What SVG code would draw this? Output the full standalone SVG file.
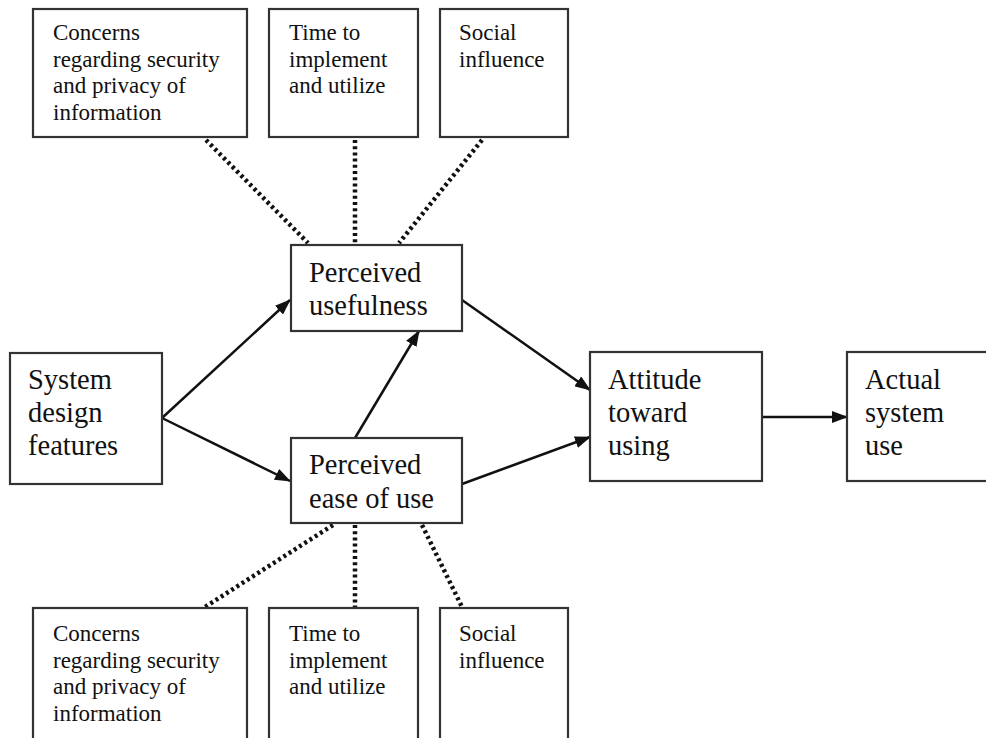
<svg xmlns="http://www.w3.org/2000/svg" width="986" height="738" viewBox="0 0 986 738">
<defs>
<marker id="ah" markerWidth="16" markerHeight="12" refX="15" refY="6" orient="auto" markerUnits="userSpaceOnUse">
<path d="M0,0 L16,6 L0,12 z" fill="#111"/>
</marker>
<style>
.box{fill:#fff;stroke:#333;stroke-width:2.2}
.s{font-family:"Liberation Serif","Times New Roman",serif;font-size:23px;fill:#111}
.l{font-family:"Liberation Serif","Times New Roman",serif;font-size:28.5px;fill:#111}
.arr{stroke:#111;stroke-width:2.5;fill:none;marker-end:url(#ah)}
.dot{stroke:#111;stroke-width:4.5;fill:none;stroke-dasharray:3 3.2}
</style>
</defs>
<rect width="986" height="738" fill="#fff"/>
<g id="connectors">
<line class="dot" x1="206" y1="140" x2="308" y2="243"/>
<line class="dot" x1="355" y1="140" x2="355" y2="244"/>
<line class="dot" x1="482" y1="140" x2="399" y2="243"/>
<line class="dot" x1="333" y1="525" x2="205" y2="607"/>
<line class="dot" x1="355" y1="525" x2="355" y2="607"/>
<line class="dot" x1="422" y1="525" x2="462" y2="607"/>
<line class="arr" x1="162" y1="418" x2="290" y2="300"/>
<line class="arr" x1="162" y1="418" x2="290" y2="481"/>
<line class="arr" x1="355" y1="438" x2="419" y2="331"/>
<line class="arr" x1="462" y1="300" x2="590" y2="390"/>
<line class="arr" x1="462" y1="484" x2="590" y2="437"/>
<line class="arr" x1="762" y1="417" x2="847" y2="417"/>
</g>
<g id="top-concerns">
<rect class="box" x="33" y="9" width="214" height="128"/>
<text class="s" x="53" y="40">Concerns</text>
<text class="s" x="53" y="67">regarding security</text>
<text class="s" x="53" y="93">and privacy of</text>
<text class="s" x="53" y="120">information</text>
</g>
<g id="top-time">
<rect class="box" x="269" y="9" width="149" height="128"/>
<text class="s" x="289" y="40">Time to</text>
<text class="s" x="289" y="67">implement</text>
<text class="s" x="289" y="93">and utilize</text>
</g>
<g id="top-social">
<rect class="box" x="440" y="9" width="128" height="128"/>
<text class="s" x="459" y="40">Social</text>
<text class="s" x="459" y="67">influence</text>
</g>
<g id="usefulness">
<rect class="box" x="291" y="245" width="171" height="86"/>
<text class="l" x="309" y="282">Perceived</text>
<text class="l" x="309" y="315">usefulness</text>
</g>
<g id="ease">
<rect class="box" x="291" y="438" width="171" height="85"/>
<text class="l" x="309" y="474">Perceived</text>
<text class="l" x="309" y="508">ease of use</text>
</g>
<g id="system">
<rect class="box" x="10" y="353" width="152" height="131"/>
<text class="l" x="28" y="389">System</text>
<text class="l" x="28" y="422">design</text>
<text class="l" x="28" y="455">features</text>
</g>
<g id="attitude">
<rect class="box" x="590" y="352" width="172" height="129"/>
<text class="l" x="608" y="389">Attitude</text>
<text class="l" x="608" y="422">toward</text>
<text class="l" x="608" y="455">using</text>
</g>
<g id="actual">
<rect class="box" x="847" y="352" width="150" height="129"/>
<text class="l" x="865" y="389">Actual</text>
<text class="l" x="865" y="422">system</text>
<text class="l" x="865" y="455">use</text>
</g>
<g id="bottom-concerns">
<rect class="box" x="33" y="608" width="214" height="140"/>
<text class="s" x="53" y="641">Concerns</text>
<text class="s" x="53" y="668">regarding security</text>
<text class="s" x="53" y="694">and privacy of</text>
<text class="s" x="53" y="721">information</text>
</g>
<g id="bottom-time">
<rect class="box" x="269" y="608" width="149" height="140"/>
<text class="s" x="289" y="641">Time to</text>
<text class="s" x="289" y="668">implement</text>
<text class="s" x="289" y="694">and utilize</text>
</g>
<g id="bottom-social">
<rect class="box" x="440" y="608" width="128" height="140"/>
<text class="s" x="459" y="641">Social</text>
<text class="s" x="459" y="668">influence</text>
</g>
</svg>
